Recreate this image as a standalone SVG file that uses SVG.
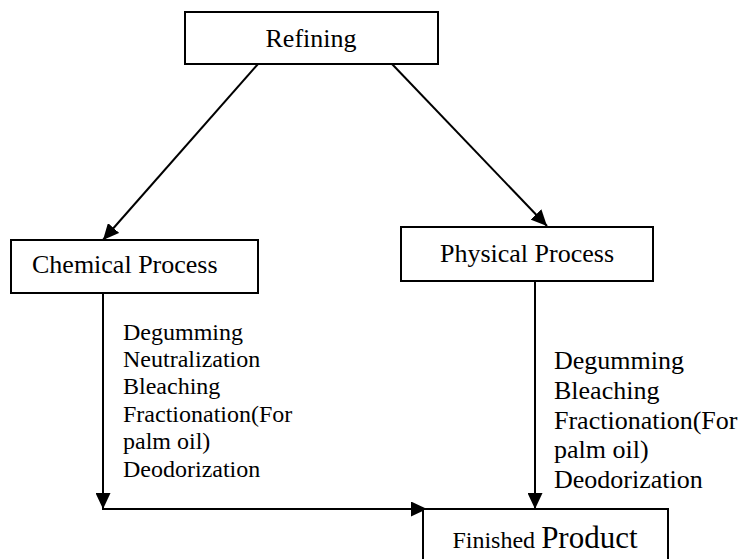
<svg xmlns="http://www.w3.org/2000/svg" width="743" height="559" viewBox="0 0 743 559">
<style>
.box{fill:#fff;stroke:#000;stroke-width:2}
.t{font-family:"Liberation Serif","Times New Roman",serif;fill:#000}
.c{stroke:#000;stroke-width:2;fill:none}
</style>
<defs>
<marker id="ah" markerUnits="userSpaceOnUse" markerWidth="16" markerHeight="15" refX="16" refY="7.5" orient="auto">
<path d="M0,0 L16,7.5 L0,15 z" fill="#000"/>
</marker>
</defs>
<rect width="743" height="559" fill="#fff"/>
<g id="connectors">
<line class="c" x1="258" y1="64" x2="103" y2="240" marker-end="url(#ah)"/>
<line class="c" x1="392" y1="64" x2="547" y2="226" marker-end="url(#ah)"/>
<line class="c" x1="103" y1="293" x2="103" y2="509" marker-end="url(#ah)"/>
<line class="c" x1="102" y1="509" x2="427" y2="509" marker-end="url(#ah)"/>
<line class="c" x1="535" y1="281" x2="535" y2="509" marker-end="url(#ah)"/>
</g>
<g id="refining">
<rect class="box" x="185" y="12" width="253" height="52"/>
<text class="t" x="311" y="47" font-size="26" text-anchor="middle">Refining</text>
</g>
<g id="chemical">
<rect class="box" x="11" y="240" width="247" height="53"/>
<text class="t" x="32" y="273" font-size="26">Chemical Process</text>
</g>
<g id="physical">
<rect class="box" x="401" y="227" width="252" height="54"/>
<text class="t" x="527" y="262" font-size="26" text-anchor="middle">Physical Process</text>
</g>
<g id="chemical-steps">
<text class="t" font-size="24">
<tspan x="123" y="340">Degumming</tspan>
<tspan x="123" y="367">Neutralization</tspan>
<tspan x="123" y="394">Bleaching</tspan>
<tspan x="123" y="422">Fractionation(For</tspan>
<tspan x="123" y="449">palm oil)</tspan>
<tspan x="123" y="477">Deodorization</tspan>
</text>
</g>
<g id="physical-steps">
<text class="t" font-size="26">
<tspan x="554" y="369">Degumming</tspan>
<tspan x="554" y="399">Bleaching</tspan>
<tspan x="554" y="429">Fractionation(For</tspan>
<tspan x="554" y="458">palm oil)</tspan>
<tspan x="554" y="488">Deodorization</tspan>
</text>
</g>
<g id="finished">
<rect class="box" x="423" y="509" width="245" height="70"/>
<text class="t" x="545" y="548" text-anchor="middle"><tspan font-size="24">Finished </tspan><tspan font-size="31">Product</tspan></text>
</g>
</svg>
